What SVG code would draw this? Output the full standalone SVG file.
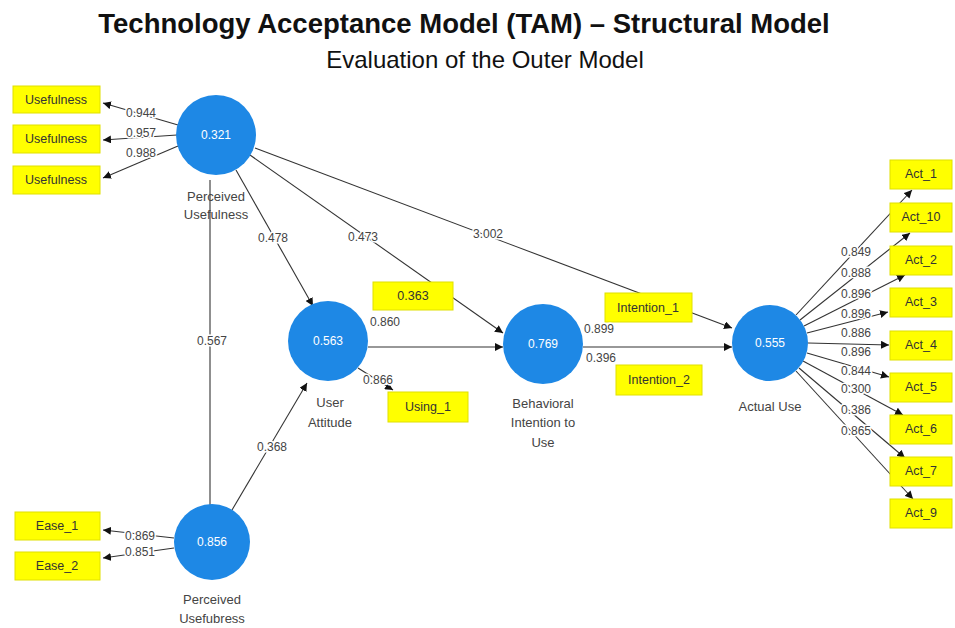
<svg xmlns="http://www.w3.org/2000/svg" width="955" height="628" viewBox="0 0 955 628">
<style>
.t{font-family:"Liberation Sans",Arial,sans-serif;fill:#111}
.lv{fill:#1e88e5}
.v{font-family:"Liberation Sans",Arial,sans-serif;font-size:12px;fill:#fff;text-anchor:middle}
.nl{font-family:"Liberation Sans",Arial,sans-serif;font-size:13px;fill:#444;text-anchor:middle}
.box{fill:#ffff00;stroke:#e0e000;stroke-width:1}
.bt{font-family:"Liberation Sans",Arial,sans-serif;font-size:12.5px;fill:#333;text-anchor:middle}
.w{font-family:"Liberation Sans",Arial,sans-serif;font-size:12px;fill:#444;text-anchor:middle;stroke:#fff;stroke-width:3;paint-order:stroke}
.c line{stroke:#333;stroke-width:1.1;fill:none}
.a{marker-end:url(#ah)}
</style>
<defs>
<marker id="ah" markerUnits="userSpaceOnUse" markerWidth="9" markerHeight="8" refX="8" refY="4" orient="auto"><path d="M0,0 L8,4 L0,8 z" fill="#111"/></marker>
</defs>
<rect width="955" height="628" fill="#fff"/>
<text class="t" x="464" y="33" font-size="27.5" font-weight="bold" text-anchor="middle">Technology Acceptance Model (TAM) – Structural Model</text>
<text class="t" x="485" y="68" font-size="24" text-anchor="middle" fill="#222">Evaluation of the Outer Model</text>

<g id="connectors" class="c">
<line x1="210" y1="180" x2="210" y2="505"/>
<line class="a" x1="236" y1="170" x2="313" y2="306"/>
<line class="a" x1="250" y1="155" x2="503" y2="333"/>
<line class="a" x1="255" y1="148" x2="732" y2="328"/>
<line class="a" x1="368" y1="347" x2="503" y2="347"/>
<line class="a" x1="583" y1="347" x2="732" y2="347"/>
<line class="a" x1="232" y1="510" x2="307" y2="383"/>
<line class="a" x1="358" y1="368" x2="393" y2="390"/>
<line class="a" x1="178" y1="125" x2="103" y2="103"/>
<line class="a" x1="177" y1="135" x2="103" y2="140"/>
<line class="a" x1="178" y1="146" x2="103" y2="178"/>
<line class="a" x1="174" y1="538" x2="103" y2="530"/>
<line class="a" x1="174" y1="548" x2="103" y2="558"/>
<line class="a" x1="796" y1="315" x2="912" y2="190"/>
<line class="a" x1="800" y1="320" x2="910" y2="233"/>
<line class="a" x1="804" y1="326" x2="905" y2="275"/>
<line class="a" x1="807" y1="333" x2="888" y2="312"/>
<line class="a" x1="808" y1="343" x2="889" y2="345"/>
<line class="a" x1="807" y1="353" x2="889" y2="377"/>
<line class="a" x1="803" y1="361" x2="903" y2="415"/>
<line class="a" x1="799" y1="368" x2="905" y2="458"/>
<line class="a" x1="796" y1="371" x2="913" y2="499"/>
</g>

<g id="n-pu"><circle class="lv" cx="216" cy="135" r="40"/><text class="v" x="216" y="139">0.321</text>
<text class="nl" x="216" y="201">Perceived</text><text class="nl" x="216" y="219">Usefulness</text></g>
<g id="n-ua"><circle class="lv" cx="328" cy="341" r="40"/><text class="v" x="328" y="345">0.563</text>
<text class="nl" x="330" y="407">User</text><text class="nl" x="330" y="427">Attitude</text></g>
<g id="n-bi"><circle class="lv" cx="543" cy="344" r="40"/><text class="v" x="543" y="348">0.769</text>
<text class="nl" x="543" y="408">Behavioral</text><text class="nl" x="543" y="427">Intention to</text><text class="nl" x="543" y="447">Use</text></g>
<g id="n-au"><circle class="lv" cx="770" cy="343" r="38"/><text class="v" x="770" y="347">0.555</text>
<text class="nl" x="770" y="411">Actual Use</text></g>
<g id="n-eou"><circle class="lv" cx="212" cy="542" r="38"/><text class="v" x="212" y="546">0.856</text>
<text class="nl" x="212" y="604">Perceived</text><text class="nl" x="212" y="623">Usefubress</text></g>

<g id="i-u1"><rect class="box" x="13" y="86" width="87" height="27"/><text class="bt" x="56" y="104">Usefulness</text></g>
<g id="i-u2"><rect class="box" x="13" y="125" width="87" height="28"/><text class="bt" x="56" y="143">Usefulness</text></g>
<g id="i-u3"><rect class="box" x="13" y="166" width="87" height="28"/><text class="bt" x="56" y="184">Usefulness</text></g>
<g id="i-e1"><rect class="box" x="15" y="512" width="85" height="28"/><text class="bt" x="57" y="530">Ease_1</text></g>
<g id="i-e2"><rect class="box" x="15" y="552" width="85" height="28"/><text class="bt" x="57" y="570">Ease_2</text></g>
<g id="i-363"><rect class="box" x="373" y="282" width="80" height="28"/><text class="bt" x="413" y="300">0.363</text></g>
<g id="i-using1"><rect class="box" x="388" y="392" width="80" height="30"/><text class="bt" x="428" y="411">Using_1</text></g>
<g id="i-int1"><rect class="box" x="605" y="293" width="87" height="29"/><text class="bt" x="648" y="312">Intention_1</text></g>
<g id="i-int2"><rect class="box" x="616" y="365" width="86" height="30"/><text class="bt" x="659" y="384">Intention_2</text></g>
<g id="i-a1"><rect class="box" x="890" y="160" width="62" height="29"/><text class="bt" x="921" y="178">Act_1</text></g>
<g id="i-a10"><rect class="box" x="890" y="203" width="62" height="29"/><text class="bt" x="921" y="221">Act_10</text></g>
<g id="i-a2"><rect class="box" x="890" y="246" width="62" height="29"/><text class="bt" x="921" y="264">Act_2</text></g>
<g id="i-a3"><rect class="box" x="890" y="288" width="62" height="29"/><text class="bt" x="921" y="306">Act_3</text></g>
<g id="i-a4"><rect class="box" x="890" y="331" width="62" height="29"/><text class="bt" x="921" y="349">Act_4</text></g>
<g id="i-a5"><rect class="box" x="890" y="373" width="62" height="29"/><text class="bt" x="921" y="391">Act_5</text></g>
<g id="i-a6"><rect class="box" x="890" y="415" width="62" height="29"/><text class="bt" x="921" y="433">Act_6</text></g>
<g id="i-a7"><rect class="box" x="890" y="457" width="62" height="29"/><text class="bt" x="921" y="475">Act_7</text></g>
<g id="i-a9"><rect class="box" x="890" y="499" width="62" height="29"/><text class="bt" x="921" y="517">Act_9</text></g>

<g id="labels">
<text class="w" x="141" y="117">0.944</text>
<text class="w" x="141" y="137">0.957</text>
<text class="w" x="141" y="157">0.988</text>
<text class="w" x="140" y="540">0.869</text>
<text class="w" x="140" y="556">0.851</text>
<text class="w" x="273" y="242">0.478</text>
<text class="w" x="363" y="241">0.473</text>
<text class="w" x="488" y="238">3.002</text>
<text class="w" x="212" y="345">0.567</text>
<text class="w" x="272" y="451">0.368</text>
<text class="w" x="385" y="326">0.860</text>
<text class="w" x="378" y="384">0.866</text>
<text class="w" x="599" y="333">0.899</text>
<text class="w" x="601" y="362">0.396</text>
<text class="w" x="856" y="256">0.849</text>
<text class="w" x="856" y="277">0.888</text>
<text class="w" x="856" y="298">0.896</text>
<text class="w" x="856" y="318">0.896</text>
<text class="w" x="856" y="337">0.886</text>
<text class="w" x="856" y="356">0.896</text>
<text class="w" x="856" y="375">0.844</text>
<text class="w" x="856" y="393">0.300</text>
<text class="w" x="856" y="414">0.386</text>
<text class="w" x="856" y="435">0.865</text>
</g>
</svg>
